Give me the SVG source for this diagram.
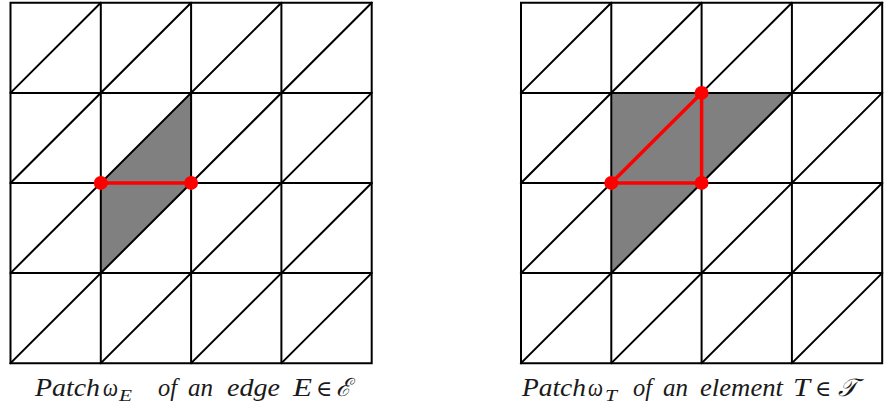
<svg xmlns="http://www.w3.org/2000/svg" width="884" height="407" viewBox="0 0 884 407">
<style>
.g{stroke:#000;stroke-width:2;fill:none;stroke-linecap:square}
.sh{fill:#808080;stroke:none}
.r{stroke:#ff0000;stroke-width:3.5;fill:none;stroke-linecap:round}
.d{fill:#ff0000}
.t{font-family:"Liberation Serif","DejaVu Serif",serif;font-style:italic;font-size:25px;fill:#1a1a1a}
.s{font-size:17px}
.m{font-family:"DejaVu Serif","Liberation Serif",serif;font-style:normal;font-size:22px}
</style>
<defs>
<g id="grid">
<path class="g" d="M0,0H361.2V360.4H0Z M90.3,0V360.4 M180.6,0V360.4 M270.9,0V360.4 M0,90.1H361.2 M0,180.2H361.2 M0,270.3H361.2"/>
<path class="g" d="M0,90.1L90.3,0 M0,180.2L180.6,0 M0,270.3L270.9,0 M0,360.4L361.2,0 M90.3,360.4L361.2,90.1 M180.6,360.4L361.2,180.2 M270.9,360.4L361.2,270.3"/>
</g>
</defs>
<g id="patchE">
<polygon class="sh" points="100.8,182.9 191.1,92.9 191.1,182.9 100.8,273.1"/>
<use href="#grid" x="10.5" y="2.8"/>
<line class="r" x1="100.8" y1="182.9" x2="191.1" y2="182.9"/>
<circle class="d" cx="100.8" cy="182.9" r="7"/>
<circle class="d" cx="191.1" cy="182.9" r="7"/>
</g>
<g id="patchT">
<polygon class="sh" points="611.3,92.9 791.9,92.9 701.6,182.9 611.3,273.1"/>
<use href="#grid" x="521" y="2.8"/>
<polygon class="r" points="611.3,182.9 701.6,182.9 701.6,92.9" stroke-linejoin="round"/>
<circle class="d" cx="611.3" cy="182.9" r="7"/>
<circle class="d" cx="701.6" cy="182.9" r="7"/>
<circle class="d" cx="701.6" cy="92.9" r="7"/>
</g>
<g id="labels">
<text class="t" y="396"><tspan x="35" textLength="65" lengthAdjust="spacingAndGlyphs">Patch</tspan><tspan x="103" textLength="15" lengthAdjust="spacingAndGlyphs">ω</tspan><tspan class="s" x="119" y="401" textLength="13" lengthAdjust="spacingAndGlyphs">E</tspan><tspan x="158" y="396" textLength="19" lengthAdjust="spacingAndGlyphs">of</tspan><tspan x="188" textLength="25" lengthAdjust="spacingAndGlyphs">an</tspan><tspan x="227" textLength="53" lengthAdjust="spacingAndGlyphs">edge</tspan><tspan x="293" textLength="19" lengthAdjust="spacingAndGlyphs">E</tspan><tspan class="m" x="316">∈</tspan><tspan x="336">ℰ</tspan></text>
<text class="t" y="396"><tspan x="522" textLength="64" lengthAdjust="spacingAndGlyphs">Patch</tspan><tspan x="588" textLength="15" lengthAdjust="spacingAndGlyphs">ω</tspan><tspan class="s" x="605" y="401" textLength="12" lengthAdjust="spacingAndGlyphs">T</tspan><tspan x="633" y="396" textLength="19" lengthAdjust="spacingAndGlyphs">of</tspan><tspan x="663" textLength="25" lengthAdjust="spacingAndGlyphs">an</tspan><tspan x="700" textLength="83" lengthAdjust="spacingAndGlyphs">element</tspan><tspan x="793" textLength="17" lengthAdjust="spacingAndGlyphs">T</tspan><tspan class="m" x="815">∈</tspan><tspan x="838">𝒯</tspan></text>
</g>
</svg>
